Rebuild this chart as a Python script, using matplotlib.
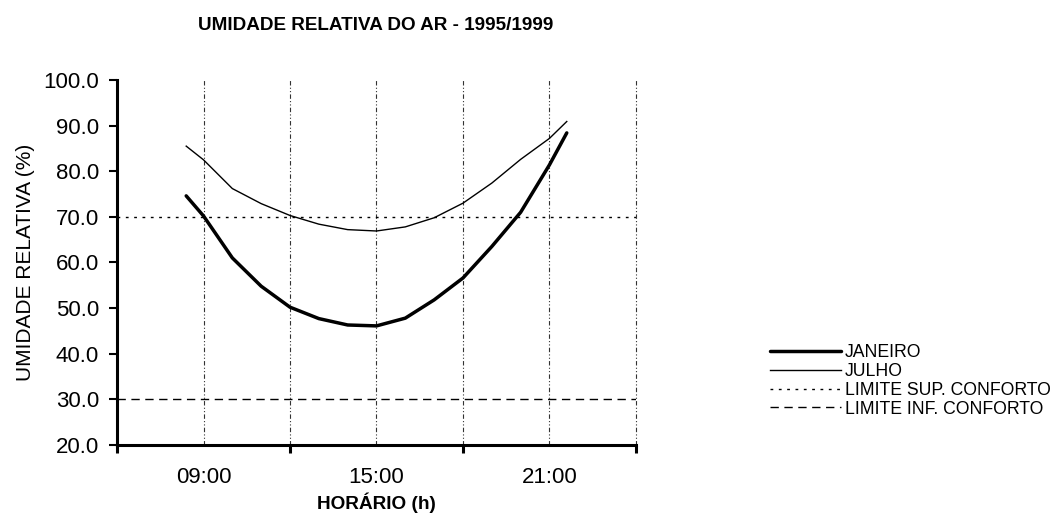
import matplotlib.pyplot as plt
from matplotlib.ticker import FixedLocator, FormatStrFormatter

# hourly readings (h) and relative humidity (%)
hours = [8.4, 9, 10, 11, 12, 13, 14, 15, 16, 17, 18, 19, 20, 21, 21.6]
janeiro = [74.6, 70.2, 61.0, 54.8, 50.2, 47.7, 46.3, 46.1, 47.8, 51.8, 56.6, 63.5, 71.0, 81.4, 88.4]
julho = [85.5, 82.5, 76.2, 72.9, 70.3, 68.4, 67.2, 66.9, 67.8, 69.8, 73.0, 77.4, 82.6, 87.2, 90.9]

limite_sup = 70.0
limite_inf = 30.0

tick_hours = [9, 15, 21]
tick_labels = ['09:00', '15:00', '21:00']
grid_hours = [9, 12, 15, 18, 21, 24]

plt.rcParams['font.family'] = ['Liberation Sans', 'DejaVu Sans']

fig = plt.figure(figsize=(10.58, 5.13), dpi=100)
ax = fig.add_axes([0.1106, 0.1326, 0.4905, 0.7115])

for h in grid_hours:
    ax.axvline(h, color='#333333', lw=0.8, ls=(0, (4, 2, 1, 2, 1, 2)), zorder=1, clip_on=False)

l_sup = ax.axhline(limite_sup, color='black', lw=1.0, ls=(0, (2, 4)), zorder=2)
l_inf = ax.axhline(limite_inf, color='black', lw=1.0, ls=(0, (6, 4)), zorder=2)

l_jan, = ax.plot(hours, janeiro, color='black', lw=2.5, solid_joinstyle='round',
                 solid_capstyle='round', zorder=3)
l_jul, = ax.plot(hours, julho, color='black', lw=1.0, solid_joinstyle='round', zorder=3)

ax.set_xlim(6, 24)
ax.set_ylim(20, 100)

ax.xaxis.set_major_locator(FixedLocator([6, 12, 18, 24]))
ax.xaxis.set_major_formatter(plt.NullFormatter())
ax.xaxis.set_minor_locator(FixedLocator(tick_hours))
ax.set_xticklabels(tick_labels, minor=True)
ax.tick_params(axis='x', which='major', direction='out', length=6, width=2.2)
ax.tick_params(axis='x', which='minor', length=0, pad=16, labelsize=16)

ax.set_yticks(range(20, 101, 10))
ax.yaxis.set_major_formatter(FormatStrFormatter('%.1f'))
ax.tick_params(axis='y', direction='out', length=6, width=1.5, pad=7, labelsize=16)

for s in ['top', 'right']:
    ax.spines[s].set_visible(False)
for s in ['left', 'bottom']:
    ax.spines[s].set_linewidth(2.2)

ax.set_xlabel('HORÁRIO (h)', fontsize=13.7, fontweight='bold', labelpad=3)
ax.set_ylabel('UMIDADE RELATIVA (%)', fontsize=15, labelpad=6)

fig.text(0.3554, 0.951, 'UMIDADE RELATIVA DO AR - 1995/1999', ha='center', va='center',
         fontsize=13.6, fontweight='bold')

fig.legend([l_jan, l_jul, l_sup, l_inf],
           ['JANEIRO', 'JULHO', 'LIMITE SUP. CONFORTO', 'LIMITE INF. CONFORTO'],
           loc='upper left', bbox_to_anchor=(0.728, 0.329), frameon=False,
           fontsize=12.7, handlelength=4, handletextpad=0.25, labelspacing=0.1,
           borderpad=0, borderaxespad=0)

plt.savefig('out.png', dpi=100)
